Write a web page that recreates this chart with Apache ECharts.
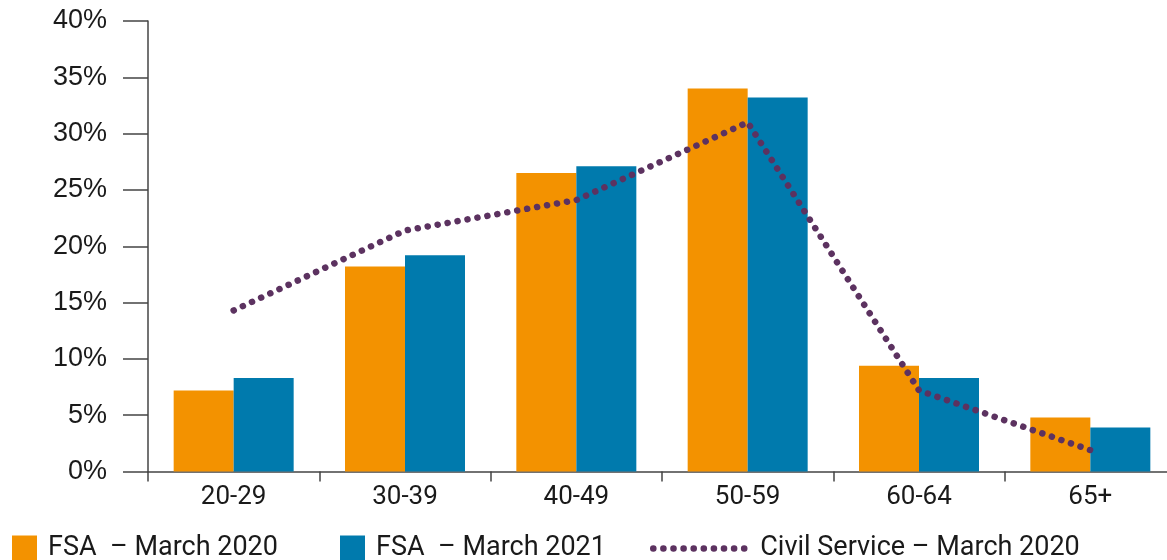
<!DOCTYPE html>
<html>
<head>
<meta charset="utf-8">
<script src="https://cdn.jsdelivr.net/npm/echarts@6/dist/echarts.min.js"></script>
<style>
  html, body { margin: 0; padding: 0; background: #fff; }
  #chart { width: 1167px; height: 560px; }
</style>
</head>
<body>
<div id="chart"></div>
<script>
// age bands
const categories = ['20-29', '30-39', '40-49', '50-59', '60-64', '65+'];
// share of staff, %
const fsa2020 = [7.2, 18.2, 26.5, 34.0, 9.4, 4.8];
const fsa2021 = [8.3, 19.2, 27.1, 33.2, 8.3, 3.9];
const civilService2020 = [14.3, 21.4, 24.1, 31.0, 7.2, 1.9];
const seriesNames = ['FSA  – March 2020', 'FSA  – March 2021', 'Civil Service – March 2020'];

const ORANGE = '#F39200';
const BLUE = '#007AAD';
const PURPLE = '#5C3260';
const AXIS = '#444';

const chart = echarts.init(document.getElementById('chart'));

const legendText = { fontFamily: 'Roboto', fontSize: 27, color: '#1a1a1a', padding: [0, 0, 0, 6] };

const option = {
  animation: false,
  grid: { left: 148, top: 21, bottom: 88.5, right: -9, outerBoundsMode: 'none' },
  legend: [
    { data: [seriesNames[0]], icon: 'rect', left: 7, top: 530, itemWidth: 25, itemHeight: 26, textStyle: legendText },
    { data: [seriesNames[1]], icon: 'rect', left: 335, top: 530, itemWidth: 25, itemHeight: 26, textStyle: legendText },
    {
      data: [seriesNames[2]], left: 645, top: 530, itemWidth: 92, itemHeight: 26,
      textStyle: Object.assign({}, legendText, { padding: [0, 0, 0, 10] }),
      lineStyle: { width: 6.5 },
      itemStyle: { opacity: 0 }
    }
  ],
  xAxis: {
    type: 'category',
    data: categories,
    axisLine: { lineStyle: { color: AXIS, width: 1.5 } },
    axisTick: { show: true, length: 10, lineStyle: { color: AXIS, width: 1.5 } },
    axisLabel: { fontFamily: 'Roboto', fontSize: 26, color: '#1a1a1a', margin: 13 }
  },
  yAxis: {
    type: 'value',
    min: 0, max: 40, interval: 5,
    axisLine: { show: true, lineStyle: { color: AXIS, width: 1.5 } },
    axisTick: { show: true, length: 25, lineStyle: { color: AXIS, width: 1.5 } },
    splitLine: { show: false },
    axisLabel: {
      fontFamily: 'Liberation Sans', fontSize: 27, color: '#1a1a1a', margin: 41,
      formatter: '{value}%'
    }
  },
  series: [
    {
      name: seriesNames[0], type: 'bar', data: fsa2020,
      barWidth: 60, barGap: '0%',
      itemStyle: { color: ORANGE }
    },
    {
      name: seriesNames[1], type: 'bar', data: fsa2021,
      barWidth: 60, barGap: '0%',
      itemStyle: { color: BLUE }
    },
    {
      name: seriesNames[2], type: 'line', data: civilService2020,
      symbol: 'none', z: 5,
      itemStyle: { color: PURPLE },
      lineStyle: { color: PURPLE, width: 6.5, type: [0.1, 10], cap: 'round' }
    }
  ]
};

chart.setOption(option);
</script>
</body>
</html>
